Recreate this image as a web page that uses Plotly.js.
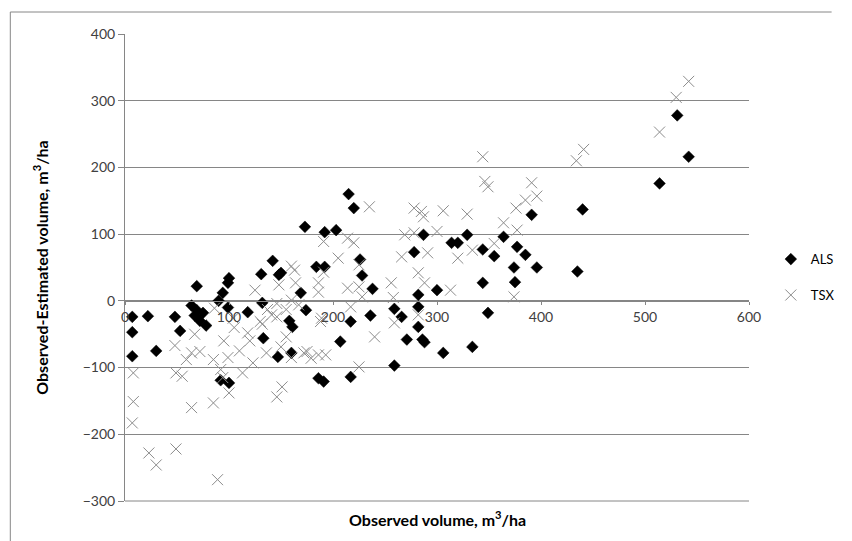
<!DOCTYPE html>
<html>
<head>
<meta charset="utf-8">
<script src="https://cdn.plot.ly/plotly-3.0.1.min.js"></script>
<style>html,body{margin:0;padding:0;background:#fff;}#chart{width:852px;height:541px;}</style>
</head>
<body>
<div id="chart"></div>
<script>
// ALS: observed volume (m3/ha) and observed-estimated difference
const alsX = [7,7,7,22,30,48,53,69,64,69,67,72,75,78,90,94,99,100,99,92,100,118,132,131,142,148,150,133,147,160,158,161,169,174,173,184,192,192,203,215,220,186,191,207,217,217,226,228,238,236,259,266,259,271,278,287,282,282,282,286,288,300,306,314,320,329,334,344,344,349,355,364,377,374,375,385,391,396,435,440,514,531,542];
const alsY = [-24,-47,-83,-23,-75,-24,-45,22,-7,-14,-22,-30,-18,-37,0,12,27,34,-10,-119,-123,-17,-3,40,60,39,42,-56,-84,-78,-30,-39,12,-14,111,51,51,103,106,160,139,-116,-121,-61,-114,-31,62,38,18,-22,-12,-24,-97,-58,73,99,9,-9,-39,-58,-62,16,-78,87,87,99,-69,77,27,-18,67,96,81,50,28,69,129,50,44,137,176,278,216];

// TSX
const tsxX = [8,8,7,23,30,49,89,49,55,64,85,48,67,64,72,59,85,92,99,94,100,113,123,136,146,151,118,130,141,86,104,125,137,146,155,146,160,167,148,163,164,160,186,186,189,150,155,160,172,179,186,191,214,220,205,191,225,225,214,217,228,235,256,258,266,269,278,278,285,287,291,282,288,188,193,225,240,259,282,175,313,320,334,355,374,377,300,344,346,349,391,396,385,376,364,329,306,434,441,514,530,542,120,105,95,110,132];
const tsxY = [-108,-151,-183,-228,-246,-222,-268,-108,-113,-160,-153,-67,-50,-78,-76,-88,-88,-103,-85,-115,-138,-108,-93,-78,-144,-129,-48,-31,-21,-11,-26,16,-13,-4,-13,-24,1,-6,24,46,27,52,27,13,-26,-69,-54,-85,-78,-86,-81,89,94,87,64,43,54,21,19,-9,6,141,27,5,66,99,102,139,134,126,72,42,27,-31,-81,-99,-54,-33,-21,-76,16,64,76,86,6,106,104,216,179,171,177,157,151,139,117,130,135,210,227,253,305,329,-60,-40,-60,-75,-35];

const xTicks = [0,100,200,300,400,500,600];
const yTicks = [-300,-200,-100,0,100,200,300,400];

const FONT = 'Lato, "Open Sans", "DejaVu Sans", sans-serif';
const GRAY = '#868686';

const traces = [
  {x: alsX, y: alsY, type: 'scatter', mode: 'markers', name: 'ALS', legendgroup: 'a',
   marker: {symbol: 'diamond', size: 9, color: '#000000', line: {width: 0.5, color: '#000'}}},
  {x: tsxX, y: tsxY, type: 'scatter', mode: 'markers', name: 'TSX', legendgroup: 'b',
   marker: {symbol: 'x-thin-open', size: 11, color: '#8c8c8c', line: {width: 1, color: '#8c8c8c'}}}
];

const yMin = -300, yMax = 400;
const layout = {
  width: 852, height: 541,
  margin: {l: 125, r: 85, t: 34, b: 40},
  paper_bgcolor: '#ffffff', plot_bgcolor: '#ffffff',
  font: {family: FONT, size: 13, color: '#404040'},
  showlegend: true,
  legend: {x: 1.035, y: 0.55, xanchor: 'left', yanchor: 'top', font: {size: 13, color: '#000'},
           bgcolor: 'rgba(0,0,0,0)', itemwidth: 30, tracegroupgap: 16},
  xaxis: {
    range: [0, 600], tickvals: xTicks, ticktext: xTicks.map(String),
    anchor: 'free', position: (0 - yMin) / (yMax - yMin),
    showgrid: false, zeroline: false, showline: true, linecolor: GRAY, linewidth: 1,
    ticks: 'outside', ticklen: 3, tickcolor: GRAY,
    tickfont: {size: 14, color: '#404040', family: FONT}
  },
  yaxis: {
    range: [yMin, yMax], tickvals: yTicks,
    showgrid: true, gridcolor: GRAY, gridwidth: 1, zeroline: false,
    showline: true, linecolor: GRAY, linewidth: 1,
    ticks: 'outside', ticklen: 6, tickcolor: GRAY,
    tickfont: {size: 14, color: '#404040', family: FONT},
    title: {text: '<b>Observed-Estimated volume, m<sup>3</sup>/ha</b>', font: {size: 16, color: '#000', family: FONT}, standoff: 30}
  },
  annotations: [
    {text: '<b>Observed volume, m<sup>3</sup>/ha</b>', xref: 'paper', yref: 'paper',
     x: (446 - 125) / 642, y: (501 - 518) / 467, xanchor: 'center', yanchor: 'middle',
     showarrow: false, font: {size: 16, color: '#000', family: FONT}}
  ],
  shapes: [
    {type: 'line', xref: 'paper', yref: 'paper', x0: (7 - 125) / 642, x1: (852 - 125) / 642,
     y0: (501 - 12) / 467, y1: (501 - 12) / 467, line: {color: GRAY, width: 1}},
    {type: 'line', xref: 'paper', yref: 'paper', x0: (7 - 125) / 642, x1: (7 - 125) / 642,
     y0: (501 - 12) / 467, y1: (501 - 541) / 467, line: {color: GRAY, width: 1}},
    {type: 'line', xref: 'paper', yref: 'paper', x0: 0, x1: 1, y0: 0, y1: 0, line: {color: GRAY, width: 1}}
  ]
};

Plotly.newPlot('chart', traces, layout, {displayModeBar: false, staticPlot: true});
</script>
</body>
</html>
